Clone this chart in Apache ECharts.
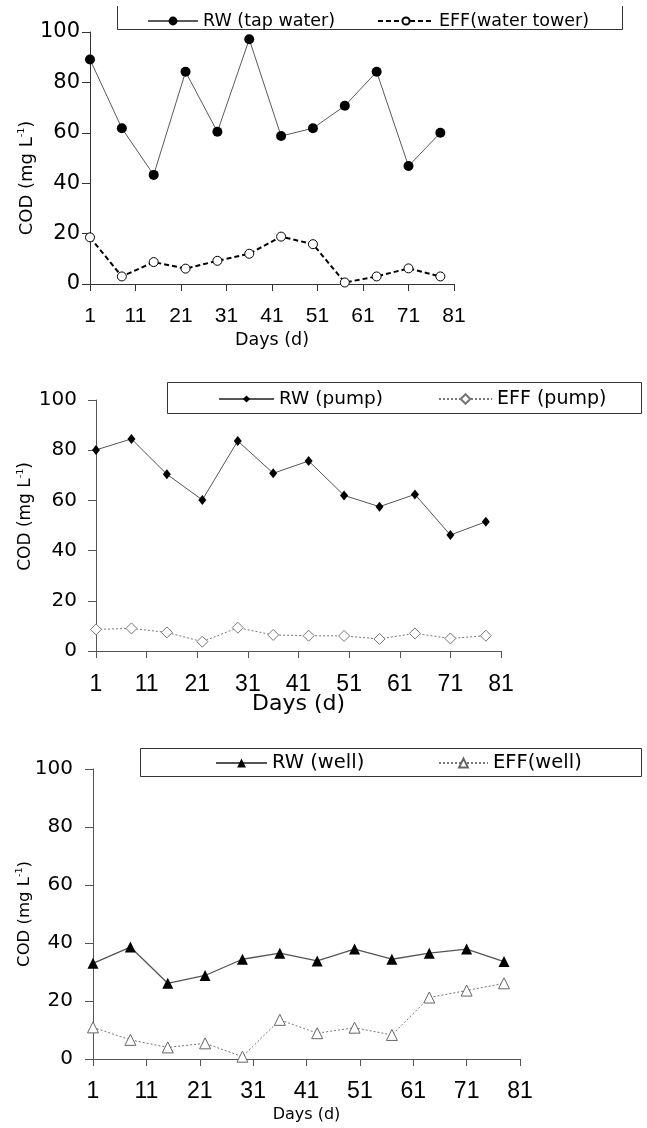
<!DOCTYPE html>
<html><head><meta charset="utf-8">
<script src="https://cdn.jsdelivr.net/npm/echarts@6/dist/echarts.min.js"></script>
<style>html,body{margin:0;padding:0;background:#fff}#c{width:647px;height:1128px}</style>
</head><body><div id="c"></div>
<script>
// ---- data ----
const days = [1, 8, 15, 22, 29, 36, 43, 50, 57, 64, 71, 78];
const xMin = 1, xMax = 81, xStep = 10;
const yMin = 0, yMax = 100, yStep = 20;
const tapRW   = [89.1, 61.8, 43.3, 84.2, 60.4, 97.1, 58.7, 61.8, 70.7, 84.2, 46.8, 60.0];
const tapEFF  = [18.5, 3.0, 8.7, 6.1, 9.2, 12.0, 18.8, 15.8, 0.6, 3.0, 6.2, 3.0];
const pumpRW  = [80.1, 84.5, 70.4, 60.2, 83.7, 70.8, 75.7, 62.0, 57.5, 62.4, 46.2, 51.5];
const pumpEFF = [8.6, 9.0, 7.4, 3.7, 9.3, 6.4, 6.1, 6.0, 4.8, 7.0, 5.0, 6.1];
const wellRW  = [33.0, 38.6, 26.1, 28.8, 34.4, 36.5, 33.8, 37.9, 34.4, 36.5, 37.9, 33.6];
const wellEFF = [10.9, 6.6, 4.0, 5.4, 0.8, 13.5, 8.9, 10.8, 8.3, 21.2, 23.6, 26.1];
const seriesNames = ['RW (tap water)', 'EFF(water tower)', 'RW (pump)', 'EFF (pump)', 'RW (well)', 'EFF(well)'];
const xTitle = 'Days (d)';
const yTitle = '{a|COD (mg L}{b|-1}{a|)}';

// ---- build ----
const pairs = arr => days.map((d, i) => [d, arr[i]]);
const chart = echarts.init(document.getElementById('c'), null, {renderer: 'canvas'});

const grids = [
  {left: 90, top: 32, width: 364, height: 252},
  {left: 96, top: 400, width: 405, height: 251},
  {left: 93, top: 769, width: 427, height: 290}
];
const panelCfg = [
  {axisColor: '#333', yFont: 21, xFont: 21, xNameFont: 17.5, xGap: 47, yGap: 53, yLabMargin: 10, xLabMargin: 22, yPad: [0, 40, 0, 0], titleFont: 18},
  {axisColor: '#555', yFont: 20, xFont: 23, xNameFont: 22, xGap: 42, yGap: 60, yLabMargin: 19, xLabMargin: 22, yPad: [0, 0, 0, 18], titleFont: 17},
  {axisColor: '#555', yFont: 20, xFont: 23, xNameFont: 16, xGap: 48, yGap: 58, yLabMargin: 20, xLabMargin: 21, yPad: [0, 0, 0, 0], titleFont: 16.5}
];

const xAxes = panelCfg.map((p, i) => ({
  type: 'value', gridIndex: i, min: xMin, max: xMax, interval: xStep,
  name: xTitle, nameLocation: 'middle', nameGap: p.xGap, nameMoveOverlap: false,
  nameTextStyle: {fontFamily: 'DejaVu Sans', fontSize: p.xNameFont, color: '#000'},
  axisLine: {show: true, onZero: false, lineStyle: {color: p.axisColor, width: 1}},
  axisTick: {show: true, inside: false, length: 7, lineStyle: {color: p.axisColor}},
  axisLabel: {fontFamily: 'Liberation Sans', fontSize: p.xFont, color: '#000', margin: p.xLabMargin, showMinLabel: true, showMaxLabel: true},
  splitLine: {show: false}
}));
const yAxes = panelCfg.map((p, i) => ({
  type: 'value', gridIndex: i, min: yMin, max: yMax, interval: yStep,
  name: yTitle, nameLocation: 'middle', nameRotate: 90, nameGap: p.yGap, nameMoveOverlap: false,
  nameTextStyle: {padding: p.yPad, rich: {
    a: {fontFamily: 'DejaVu Sans', fontSize: p.titleFont, color: '#000', lineHeight: 20, verticalAlign: 'middle'},
    b: {fontFamily: 'DejaVu Sans', fontSize: 9.5, color: '#000', lineHeight: 10, verticalAlign: 'top'}
  }},
  axisLine: {show: true, lineStyle: {color: p.axisColor, width: 1}},
  axisTick: {show: true, inside: false, length: 8, lineStyle: {color: p.axisColor}},
  axisLabel: {fontFamily: 'DejaVu Sans', fontSize: p.yFont, color: '#000', margin: p.yLabMargin},
  splitLine: {show: false}
}));

const mk = (name, data, idx, lineStyle, symbol, size, itemStyle) => ({
  name, type: 'line', xAxisIndex: idx, yAxisIndex: idx, data: pairs(data),
  symbol, symbolSize: size, showAllSymbol: true, smooth: false, z: name.startsWith('RW') ? 3 : 2,
  lineStyle, itemStyle, emphasis: {disabled: true}, animation: false
});

const series = [
  mk(seriesNames[0], tapRW, 0, {color: '#5a5a5a', width: 1, type: 'solid'}, 'circle', 10, {color: '#000', borderWidth: 0}),
  mk(seriesNames[1], tapEFF, 0, {color: '#000', width: 2, type: [5, 3]}, 'circle', 9, {color: '#fff', borderColor: '#000', borderWidth: 1}),
  mk(seriesNames[2], pumpRW, 1, {color: '#555', width: 1, type: 'solid'}, 'diamond', [8, 10], {color: '#000', borderWidth: 0}),
  mk(seriesNames[3], pumpEFF, 1, {color: '#777', width: 1, type: [2, 2]}, 'diamond', [11, 11], {color: '#fff', borderColor: '#777', borderWidth: 1}),
  mk(seriesNames[4], wellRW, 2, {color: '#555', width: 1.3, type: 'solid'}, 'triangle', [11, 11], {color: '#000', borderWidth: 0}),
  mk(seriesNames[5], wellEFF, 2, {color: '#777', width: 1, type: [2, 2]}, 'triangle', [11, 11], {color: '#fff', borderColor: '#666', borderWidth: 1})
];

const legendCfg = [
  {left: 147, top: 11, itemWidth: 50, itemHeight: 11, font: 17.5},
  {left: 377, top: 11, itemWidth: 56, itemHeight: 9, font: 17.5},
  {left: 218, top: 389, itemWidth: 55, itemHeight: 9, font: 18.5},
  {left: 438, top: 389, itemWidth: 53, itemHeight: 12, font: 19},
  {left: 215, top: 753, itemWidth: 51, itemHeight: 11, font: 19.5},
  {left: 438, top: 753, itemWidth: 49, itemHeight: 11, font: 19.5}
];
const legends = legendCfg.map((l, i) => ({
  data: [seriesNames[i]], left: l.left, top: l.top, orient: 'horizontal', padding: 0,
  itemWidth: l.itemWidth, itemHeight: l.itemHeight, selectedMode: false,
  textStyle: {fontFamily: 'DejaVu Sans', fontSize: l.font, color: '#000', lineHeight: 20}
}));

const boxStyle = {stroke: '#333', lineWidth: 1, fill: null};
chart.setOption({
  backgroundColor: '#fff',
  animation: false,
  grid: grids,
  xAxis: xAxes,
  yAxis: yAxes,
  legend: legends,
  series,
  graphic: [
    {type: 'polyline', shape: {points: [[117.5, 6], [117.5, 29.5], [622.5, 29.5], [622.5, 6]]}, style: boxStyle, silent: true},
    {type: 'rect', shape: {x: 167.5, y: 382.5, width: 474, height: 31}, style: boxStyle, silent: true},
    {type: 'rect', shape: {x: 140.5, y: 748.5, width: 501, height: 28}, style: boxStyle, silent: true}
  ]
});
</script></body></html>
